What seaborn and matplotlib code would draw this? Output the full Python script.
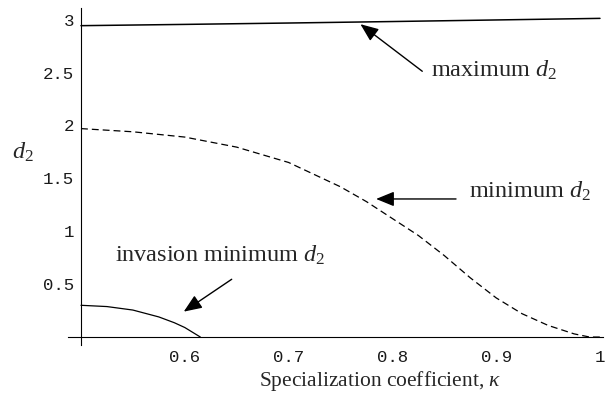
import matplotlib
matplotlib.use("Agg")
import matplotlib.pyplot as plt
from matplotlib.ticker import MultipleLocator, FixedLocator, FixedFormatter
import seaborn as sns
import numpy as np

# ---- data ----
kappa_max = [0.5, 0.6, 0.7, 0.8, 0.9, 1.0]
d2_max = [2.943, 2.955, 2.968, 2.982, 2.997, 3.012]

kappa_min = [0.5, 0.55, 0.6, 0.65, 0.7, 0.75, 0.775, 0.8, 0.825, 0.85,
             0.875, 0.9, 0.925, 0.95, 0.975, 0.99, 1.0]
d2_min = [1.97, 1.94, 1.89, 1.795, 1.65, 1.42, 1.28, 1.12, 0.96, 0.77,
          0.56, 0.37, 0.22, 0.11, 0.03, 0.0, 0.0]

kappa_inv = [0.5, 0.525, 0.55, 0.575, 0.59, 0.6, 0.615]
d2_inv = [0.30, 0.288, 0.255, 0.19, 0.135, 0.09, 0.0]

x_ticks = [0.6, 0.7, 0.8, 0.9, 1.0]
x_ticklabels = ["0.6", "0.7", "0.8", "0.9", "1"]
y_ticks = [0.5, 1.0, 1.5, 2.0, 2.5, 3.0]
y_ticklabels = ["0.5", "1", "1.5", "2", "2.5", "3"]

sns.set_style("white")
plt.rcParams["mathtext.fontset"] = "custom"
plt.rcParams["mathtext.rm"] = "Liberation Serif"
plt.rcParams["mathtext.it"] = "Liberation Serif:italic"
plt.rcParams["font.family"] = ["Liberation Serif", "DejaVu Serif"]

fig = plt.figure(figsize=(6.15, 3.95), dpi=100)
ax = fig.add_axes([68 / 615, 50 / 395, 535 / 615, 337 / 395])

sns.lineplot(x=kappa_max, y=d2_max, ax=ax, color="black", linewidth=1.1)
sns.lineplot(x=kappa_min, y=d2_min, ax=ax, color="black", linewidth=0.9)
ax.lines[-1].set_dashes((5.5, 3.2))
sns.lineplot(x=kappa_inv, y=d2_inv, ax=ax, color="black", linewidth=0.9)

ax.set_xlim(0.4875, 1.0029)
ax.set_ylim(-0.0753, 3.11)

for s in ["top", "right"]:
    ax.spines[s].set_visible(False)
ax.spines["left"].set_position(("data", 0.5))
ax.spines["bottom"].set_position(("data", 0.0))
for s in ["left", "bottom"]:
    ax.spines[s].set_linewidth(0.8)
    ax.spines[s].set_color("black")

ax.xaxis.set_major_locator(FixedLocator(x_ticks))
ax.xaxis.set_major_formatter(FixedFormatter(x_ticklabels))
ax.yaxis.set_major_locator(FixedLocator(y_ticks))
ax.yaxis.set_major_formatter(FixedFormatter(y_ticklabels))
ax.xaxis.set_minor_locator(MultipleLocator(0.02))
ax.yaxis.set_minor_locator(MultipleLocator(0.1))
ax.tick_params(which="both", direction="in", color="black", width=0.6)
ax.tick_params(which="major", length=4)
ax.tick_params(which="minor", length=2)
ax.tick_params(axis="x", which="major", pad=9)
ax.tick_params(axis="y", which="major", pad=5)
for lab in ax.get_xticklabels() + ax.get_yticklabels():
    lab.set_fontfamily("Liberation Mono")
    lab.set_fontsize(12.5)
    lab.set_color("#1a1a1a")

ax.set_xlabel(r"Specialization coefficient, $\kappa$", fontsize=15.5)
ax.xaxis.set_label_coords((380 - 68) / 535, (345 - 381) / 337)
ax.xaxis.label.set_va("center")
ax.set_ylabel(r"$\mathit{d_2}$", fontsize=17.5, rotation=0)
ax.yaxis.set_label_coords((23 - 68) / 535, (345 - 152) / 337)
ax.yaxis.label.set_va("center")
ax.yaxis.label.set_ha("center")

arrow = dict(arrowstyle="-|>,head_length=1.1,head_width=0.45", color="black",
             lw=1.0, mutation_scale=10, shrinkA=0, shrinkB=0)

ax.annotate("", xy=(0.7692, 2.957), xytext=(0.8288, 2.512), arrowprops=arrow)
ax.text(0.8375, 2.465, r"maximum $\mathit{d_2}$", fontsize=17.5, ha="left", va="baseline")

ax.annotate("", xy=(0.7843, 1.305), xytext=(0.8613, 1.305), arrowprops=arrow)
ax.text(0.874, 1.317, r"minimum $\mathit{d_2}$", fontsize=17.5, ha="left", va="baseline")

ax.annotate("", xy=(0.599, 0.240), xytext=(0.6452, 0.546), arrowprops=arrow)
ax.text(0.5327, 0.708, r"invasion minimum $\mathit{d_2}$", fontsize=17.5, ha="left", va="baseline")

fig.savefig("out.png", dpi=100)
